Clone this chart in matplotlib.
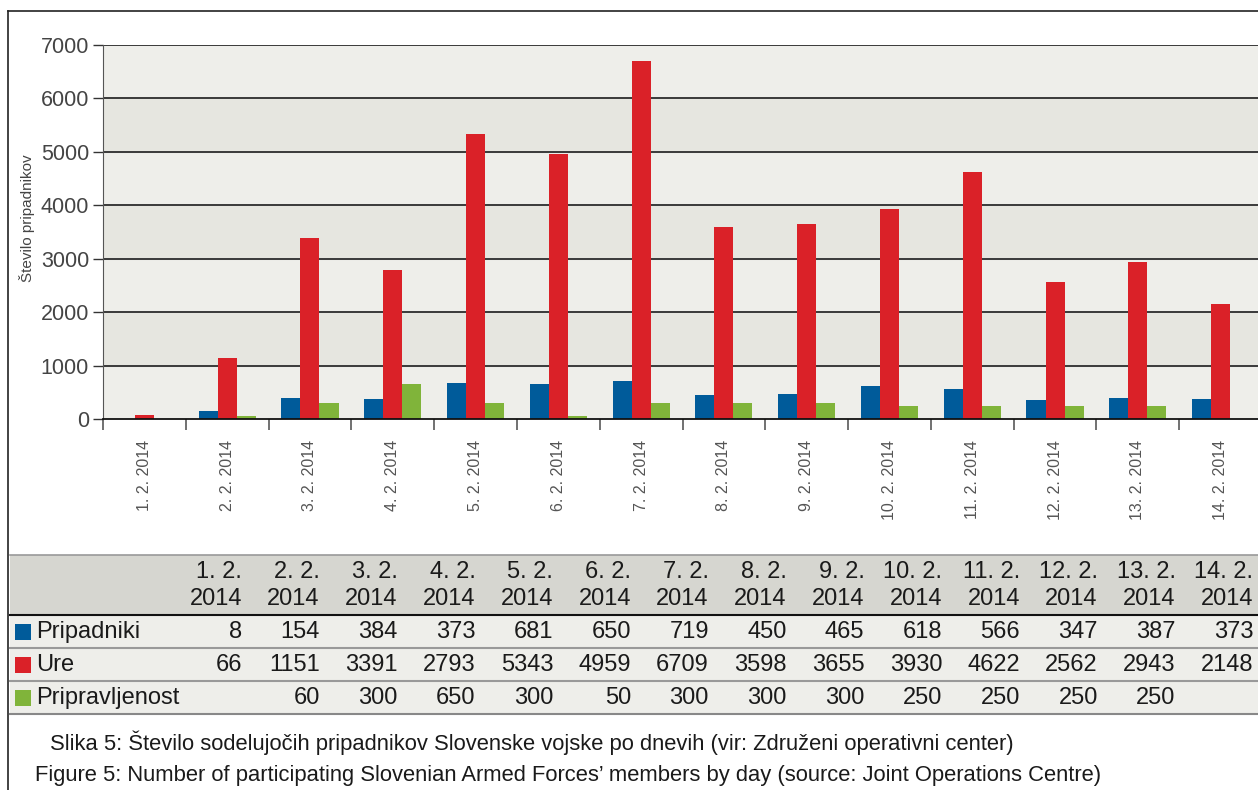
import numpy as np
import matplotlib
matplotlib.use("Agg")
import matplotlib.pyplot as plt
from matplotlib.patches import Rectangle
from matplotlib.lines import Line2D

plt.rcParams['font.family'] = ['Liberation Sans Narrow', 'Liberation Sans', 'DejaVu Sans']

# data
days = ["1. 2. 2014", "2. 2. 2014", "3. 2. 2014", "4. 2. 2014", "5. 2. 2014",
        "6. 2. 2014", "7. 2. 2014", "8. 2. 2014", "9. 2. 2014", "10. 2. 2014",
        "11. 2. 2014", "12. 2. 2014", "13. 2. 2014", "14. 2. 2014"]
pripadniki = [8, 154, 384, 373, 681, 650, 719, 450, 465, 618, 566, 347, 387, 373]
ure = [66, 1151, 3391, 2793, 5343, 4959, 6709, 3598, 3655, 3930, 4622, 2562, 2943, 2148]
pripravljenost = [None, 60, 300, 650, 300, 50, 300, 300, 300, 250, 250, 250, 250, None]
series_names = ["Pripadniki", "Ure", "Pripravljenost"]
colors = ["#005b9a", "#da2128", "#80b43a"]

W, H = 1258, 790
fig = plt.figure(figsize=(W / 100, H / 100), dpi=100)


def fx(x):
    return x / W


def fy(y):
    return 1 - y / H


# axes placed in pixels: left 103, right 1262 (cropped), top 45, bottom 419
ax = fig.add_axes([fx(103), fy(419), (1262 - 103) / W, (419 - 45) / H])
ax.set_facecolor("#eeeeea")
for k in range(1, 7, 2):
    ax.axhspan(k * 1000, (k + 1) * 1000, color="#e6e6e0", zorder=0)
for k in range(1, 8):
    ax.axhline(k * 1000, color="#3a3a3a", lw=1.4, zorder=1)

x = np.arange(len(days))
bw = 0.23
vals = [pripadniki, ure, [np.nan if v is None else v for v in pripravljenost]]
for i, (v, c) in enumerate(zip(vals, colors)):
    ax.bar(x + (i - 1) * bw, v, bw, color=c, zorder=2, linewidth=0)

ax.set_xlim(-0.5, len(days) - 0.5)
ax.set_ylim(0, 7000)
ax.set_yticks(range(0, 7001, 1000))
ax.tick_params(axis='y', labelsize=15.5, labelcolor="#444444", length=7, width=1,
               color="#333333", pad=3)
ax.set_xticks(np.arange(-0.5, len(days), 1.0))
ax.set_xticklabels([])
ax.tick_params(axis='x', which='major', length=8, width=1.3, color="#666666")
ax.set_xticks(x, minor=True)
ax.set_xticklabels(days, minor=True, rotation=90, fontsize=11.5, color="#555555")
ax.tick_params(axis='x', which='minor', length=0, pad=15)
for s in ["top", "right"]:
    ax.spines[s].set_visible(False)
ax.spines["left"].set_color("#555555")
ax.spines["bottom"].set_color("#111111")
ax.spines["bottom"].set_linewidth(1.3)
fig.text(fx(27), fy(218), "Število pripadnikov", rotation=90, ha="center", va="center",
         fontsize=11, color="#444444")

# outer frame
fig.add_artist(Line2D([fx(8), fx(8)], [fy(11), fy(790)], color="#222222", lw=1.2))
fig.add_artist(Line2D([fx(8), fx(1258)], [fy(11), fy(11)], color="#222222", lw=1.2))

# table
tx0 = 10
fig.add_artist(Rectangle((fx(tx0), fy(615)), fx(W - tx0), (615 - 555) / H,
                         facecolor="#d6d6d0", edgecolor="none"))
fig.add_artist(Rectangle((fx(tx0), fy(714)), fx(W - tx0), (714 - 615) / H,
                         facecolor="#eeeeea", edgecolor="none"))
for yy, c, lw in [(555, "#999999", 1.2), (615, "#111111", 1.5), (648, "#999999", 1.5),
                  (681, "#999999", 1.5), (714, "#888888", 1.5)]:
    fig.add_artist(Line2D([fx(tx0), 1], [fy(yy), fy(yy)], color=c, lw=lw))

col_right = [242 + 77.8 * i for i in range(len(days))]
tcol = "#1a1a1a"
for i, d in enumerate(days):
    parts = d.rsplit(" ", 1)
    fig.text(fx(col_right[i]), fy(572), parts[0], ha="right", va="center",
             fontsize=17, color=tcol)
    fig.text(fx(col_right[i]), fy(599), parts[1], ha="right", va="center",
             fontsize=17, color=tcol)

row_y = [632, 665, 698]
table_vals = [pripadniki, ure, pripravljenost]
for r, (name, c, vs) in enumerate(zip(series_names, colors, table_vals)):
    yy = row_y[r]
    fig.add_artist(Rectangle((fx(15), fy(yy + 8)), 16 / W, 16 / H,
                             facecolor=c, edgecolor="none"))
    fig.text(fx(36), fy(yy), name, ha="left", va="center", fontsize=17, color=tcol)
    for i, v in enumerate(vs):
        if v is None:
            continue
        fig.text(fx(col_right[i]), fy(yy), str(v), ha="right", va="center",
                 fontsize=17, color=tcol)

fig.text(fx(50), fy(743),
         "Slika 5: Število sodelujočih pripadnikov Slovenske vojske po dnevih "
         "(vir: Združeni operativni center)",
         ha="left", va="center", fontsize=15.8, color=tcol)
fig.text(fx(35), fy(775),
         "Figure 5: Number of participating Slovenian Armed Forces’ members by day "
         "(source: Joint Operations Centre)",
         ha="left", va="center", fontsize=15.8, color=tcol)

fig.savefig("out.png", dpi=100)
